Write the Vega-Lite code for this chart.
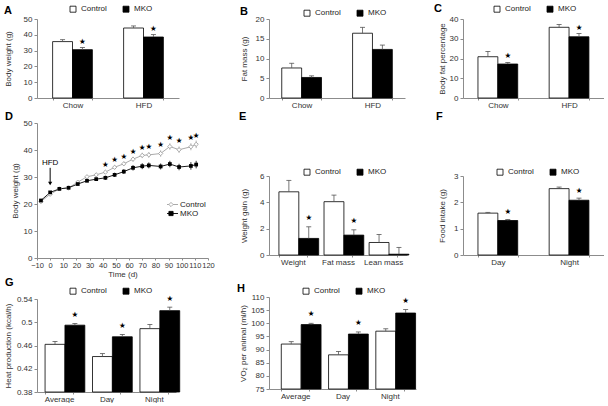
{
  "$schema": "https://vega.github.io/schema/vega-lite/v6.json",
  "background": "white",
  "padding": {"left": 3, "top": 3, "right": 0, "bottom": 0},
  "autosize": {"type": "pad"},
  "datasets": {
    "bars": [
      {"p":"A","cat":"Chow","g":"Control","m":35.7,"h":36.9,"s":false},
      {"p":"A","cat":"Chow","g":"MKO","m":30.6,"h":31.9,"s":true},
      {"p":"A","cat":"HFD","g":"Control","m":44.3,"h":45.6,"s":false},
      {"p":"A","cat":"HFD","g":"MKO","m":38.6,"h":40.1,"s":true},
      {"p":"B","cat":"Chow","g":"Control","m":7.6,"h":8.8,"s":false},
      {"p":"B","cat":"Chow","g":"MKO","m":5.2,"h":5.6,"s":false},
      {"p":"B","cat":"HFD","g":"Control","m":16.4,"h":17.9,"s":false},
      {"p":"B","cat":"HFD","g":"MKO","m":12.3,"h":13.4,"s":false},
      {"p":"C","cat":"Chow","g":"Control","m":20.9,"h":23.6,"s":false},
      {"p":"C","cat":"Chow","g":"MKO","m":17.2,"h":18.0,"s":true},
      {"p":"C","cat":"HFD","g":"Control","m":35.8,"h":37.2,"s":false},
      {"p":"C","cat":"HFD","g":"MKO","m":31.0,"h":32.6,"s":true},
      {"p":"E","cat":"Weight","g":"Control","m":4.8,"h":5.67,"s":false},
      {"p":"E","cat":"Weight","g":"MKO","m":1.26,"h":2.14,"s":true},
      {"p":"E","cat":"Fat mass","g":"Control","m":4.05,"h":4.55,"s":false},
      {"p":"E","cat":"Fat mass","g":"MKO","m":1.51,"h":1.91,"s":true},
      {"p":"E","cat":"Lean mass","g":"Control","m":0.95,"h":1.55,"s":false},
      {"p":"E","cat":"Lean mass","g":"MKO","m":0.06,"h":0.58,"s":false},
      {"p":"F","cat":"Day","g":"Control","m":1.59,"h":1.62,"s":false},
      {"p":"F","cat":"Day","g":"MKO","m":1.31,"h":1.35,"s":true},
      {"p":"F","cat":"Night","g":"Control","m":2.52,"h":2.58,"s":false},
      {"p":"F","cat":"Night","g":"MKO","m":2.08,"h":2.16,"s":true},
      {"p":"G","cat":"Average","g":"Control","m":0.462,"h":0.467,"s":false},
      {"p":"G","cat":"Average","g":"MKO","m":0.495,"h":0.498,"s":true},
      {"p":"G","cat":"Day","g":"Control","m":0.441,"h":0.446,"s":false},
      {"p":"G","cat":"Day","g":"MKO","m":0.475,"h":0.479,"s":true},
      {"p":"G","cat":"Night","g":"Control","m":0.489,"h":0.496,"s":false},
      {"p":"G","cat":"Night","g":"MKO","m":0.520,"h":0.526,"s":true},
      {"p":"H","cat":"Average","g":"Control","m":92.1,"h":93.0,"s":false},
      {"p":"H","cat":"Average","g":"MKO","m":99.5,"h":100.0,"s":true},
      {"p":"H","cat":"Day","g":"Control","m":88.0,"h":89.3,"s":false},
      {"p":"H","cat":"Day","g":"MKO","m":95.9,"h":96.7,"s":true},
      {"p":"H","cat":"Night","g":"Control","m":97.0,"h":97.9,"s":false},
      {"p":"H","cat":"Night","g":"MKO","m":103.9,"h":105.2,"s":true}
    ],
    "ts": [
      {"d":-7,"g":"Control","m":20.9,"lo":20.5,"hi":21.3,"s":false},
      {"d":0,"g":"Control","m":23.6,"lo":23.2,"hi":24.0,"s":false},
      {"d":7,"g":"Control","m":25.6,"lo":25.3,"hi":25.9,"s":false},
      {"d":14,"g":"Control","m":26.0,"lo":25.7,"hi":26.3,"s":false},
      {"d":21,"g":"Control","m":28.1,"lo":27.7,"hi":28.5,"s":false},
      {"d":28,"g":"Control","m":30.1,"lo":29.6,"hi":30.6,"s":false},
      {"d":35,"g":"Control","m":30.8,"lo":30.2,"hi":31.4,"s":false},
      {"d":42,"g":"Control","m":31.8,"lo":31.1,"hi":32.5,"s":true},
      {"d":49,"g":"Control","m":33.6,"lo":32.8,"hi":34.4,"s":true},
      {"d":56,"g":"Control","m":34.9,"lo":34.1,"hi":35.7,"s":true},
      {"d":63,"g":"Control","m":36.6,"lo":35.7,"hi":37.5,"s":true},
      {"d":70,"g":"Control","m":38.0,"lo":37.0,"hi":39.0,"s":true},
      {"d":75,"g":"Control","m":38.2,"lo":37.2,"hi":39.2,"s":true},
      {"d":84,"g":"Control","m":38.7,"lo":37.5,"hi":39.9,"s":true},
      {"d":91,"g":"Control","m":41.3,"lo":40.1,"hi":42.5,"s":true},
      {"d":98,"g":"Control","m":40.1,"lo":38.9,"hi":41.3,"s":true},
      {"d":107,"g":"Control","m":41.2,"lo":39.9,"hi":42.5,"s":true},
      {"d":111,"g":"Control","m":42.1,"lo":40.7,"hi":43.5,"s":true},
      {"d":-7,"g":"MKO","m":21.3,"lo":20.9,"hi":21.7,"s":false},
      {"d":0,"g":"MKO","m":24.3,"lo":23.9,"hi":24.7,"s":false},
      {"d":7,"g":"MKO","m":25.6,"lo":25.3,"hi":25.9,"s":false},
      {"d":14,"g":"MKO","m":26.0,"lo":25.7,"hi":26.3,"s":false},
      {"d":21,"g":"MKO","m":27.4,"lo":26.9,"hi":27.9,"s":false},
      {"d":28,"g":"MKO","m":28.6,"lo":28.1,"hi":29.1,"s":false},
      {"d":35,"g":"MKO","m":29.2,"lo":28.6,"hi":29.8,"s":false},
      {"d":42,"g":"MKO","m":29.7,"lo":28.9,"hi":30.5,"s":false},
      {"d":49,"g":"MKO","m":30.8,"lo":30.0,"hi":31.6,"s":false},
      {"d":56,"g":"MKO","m":32.0,"lo":31.1,"hi":32.9,"s":false},
      {"d":63,"g":"MKO","m":33.4,"lo":32.4,"hi":34.4,"s":false},
      {"d":70,"g":"MKO","m":34.0,"lo":32.9,"hi":35.1,"s":false},
      {"d":75,"g":"MKO","m":34.3,"lo":33.2,"hi":35.4,"s":false},
      {"d":84,"g":"MKO","m":33.9,"lo":32.8,"hi":35.0,"s":false},
      {"d":91,"g":"MKO","m":34.8,"lo":33.6,"hi":36.0,"s":false},
      {"d":98,"g":"MKO","m":33.7,"lo":32.5,"hi":34.9,"s":false},
      {"d":107,"g":"MKO","m":34.1,"lo":32.7,"hi":35.5,"s":false},
      {"d":111,"g":"MKO","m":34.6,"lo":33.2,"hi":36.0,"s":false}
    ],
    "ann": [{"d":0,"y1":33.4,"y2":27.6,"ty":34.3,"label":"HFD"}]
  },
  "spacing": 18,
  "resolve": {"scale": {"fill":"independent","color":"independent","shape":"independent"}, "legend": {"fill":"independent","color":"independent","shape":"independent"}},
  "hconcat": [
    {
      "spacing": 22,
      "resolve": {"scale": {"fill":"independent","color":"independent","shape":"independent"}, "legend": {"fill":"independent","color":"independent","shape":"independent"}},
      "hconcat": [
        {
          "spacing": -2,
          "resolve": {"scale": {"fill":"independent","color":"independent","shape":"independent"}, "legend": {"fill":"independent","color":"independent","shape":"independent"}},
          "vconcat": [
            {
              "spacing": 2,
              "resolve": {"scale": {"fill":"independent","color":"independent","shape":"independent"}, "legend": {"fill":"independent","color":"independent","shape":"independent"}},
              "vconcat": [
                {
                  "width": 142, "height": 79,
                  "title": {"text": "A", "dx": -33, "dy": 15},
                  "data": {"name": "bars"},
                  "transform": [{"filter": "datum.p === 'A'"}],
                  "encoding": {
                    "x": {"field": "cat", "type": "nominal", "sort": null, "title": null, "scale": {"paddingInner": 0.44, "paddingOuter": 0.22}, "axis": {"labelAngle": 0, "tickBand": "extent", "tickSize": 2, "labelPadding": 1}},
                    "xOffset": {"field": "g", "type": "nominal", "sort": ["Control","MKO"]},
                    "y": {"field": "m", "type": "quantitative", "title": "Body weight (g)", "scale": {"domain": [0,50], "nice": false}, "axis": {"values": [0,10,20,30,40,50], "titleX": -25}}
                  },
                  "layer": [
                    {"mark": {"type": "bar", "stroke": "black", "strokeWidth": 0.8}, "encoding": {"fill": {"field": "g", "type": "nominal", "scale": {"domain": ["Control","MKO"], "range": ["white","black"]}, "legend": {"orient": "none", "legendX": 32, "legendY": -14, "direction": "horizontal", "title": null, "symbolType": "square", "symbolSize": 36, "symbolStrokeColor": "black", "symbolStrokeWidth": 0.8, "columnPadding": 14, "labelOffset": 4}}}},
                    {"mark": {"type": "rule", "color": "#555", "strokeWidth": 0.8}, "encoding": {"y2": {"field": "h"}}},
                    {"mark": {"type": "tick", "color": "#555", "thickness": 0.8, "size": 5, "opacity": 1}, "encoding": {"y": {"field": "h", "type": "quantitative", "title": "Body weight (g)"}}},
                    {"transform": [{"filter": "datum.s"}], "mark": {"type": "text", "text": "★", "font": "DejaVu Sans", "fontSize": 7.5, "dy": -6, "baseline": "middle", "color": "black"}, "encoding": {"y": {"field": "h", "type": "quantitative", "title": "Body weight (g)"}}}
                  ]
                },
                {
                  "width": 171, "height": 135,
                  "title": {"text": "D", "dx": -32, "dy": 7},
                  "encoding": {
                    "x": {"field": "d", "type": "quantitative", "title": "Time (d)", "scale": {"domain": [-10,120], "nice": false}, "axis": {"values": [-10,0,10,20,30,40,50,60,70,80,90,100,110,120], "tickSize": 2, "labelPadding": 1, "titlePadding": 2, "labelOverlap": false, "labelFlush": false, "labelFontSize": 7.5}},
                    "y": {"field": "m", "type": "quantitative", "title": "Body weight (g)", "scale": {"domain": [0,50], "nice": false}, "axis": {"values": [0,10,20,30,40,50], "titleX": -18}}
                  },
                  "layer": [
                    {"data": {"name": "ts"}, "transform": [{"filter": "datum.g === 'Control'"}], "mark": {"type": "rule", "strokeWidth": 0.8, "color": "#a0a0a0"},
                     "encoding": {"y": {"field": "lo", "type": "quantitative", "title": "Body weight (g)"}, "y2": {"field": "hi"}}},
                    {"data": {"name": "ts"}, "transform": [{"filter": "datum.g === 'MKO'"}], "mark": {"type": "rule", "strokeWidth": 0.8, "color": "black"},
                     "encoding": {"y": {"field": "lo", "type": "quantitative", "title": "Body weight (g)"}, "y2": {"field": "hi"}}},
                    {"data": {"name": "ts"}, "mark": {"type": "line", "strokeWidth": 0.9},
                     "encoding": {
                       "color": {"field": "g", "type": "nominal", "scale": {"domain": ["Control","MKO"], "range": ["#a0a0a0","black"]},
                         "legend": {"orient": "none", "legendX": 130, "legendY": 78, "direction": "vertical", "title": null, "symbolSize": 49, "rowPadding": 0, "clipHeight": 7, "labelOffset": 5,
                           "encode": {"symbols": {"update": {
                             "shape": {"signal": "datum.value === 'Control' ? 'M-2,0L-0.6,0M0.6,0L2,0M0,-0.6L0.6,0L0,0.6L-0.6,0Z' : 'M-2,0L2,0M-0.6,-0.6L0.6,-0.6L0.6,0.6L-0.6,0.6Z'"},
                             "fill": {"signal": "datum.value === 'Control' ? 'white' : 'black'"},
                             "stroke": {"signal": "datum.value === 'Control' ? '#a0a0a0' : 'black'"},
                             "strokeWidth": {"value": 0.9},
                             "opacity": {"value": 1}
                           }}}}}
                     }},
                    {"data": {"name": "ts"}, "transform": [{"filter": "datum.g === 'Control'"}], "mark": {"type": "point", "shape": "diamond", "size": 18, "strokeWidth": 0.9, "opacity": 1, "stroke": "#a0a0a0", "fill": "white", "filled": true}},
                    {"data": {"name": "ts"}, "transform": [{"filter": "datum.g === 'MKO'"}], "mark": {"type": "square", "size": 14, "opacity": 1, "color": "black", "filled": true}},
                    {"data": {"name": "ts"}, "transform": [{"filter": "datum.s && datum.g === 'Control'"}], "mark": {"type": "text", "text": "★", "font": "DejaVu Sans", "fontSize": 7.5, "dy": -5, "baseline": "middle", "color": "black"},
                     "encoding": {"y": {"field": "hi", "type": "quantitative", "title": "Body weight (g)"}}},
                    {"data": {"name": "ann"}, "mark": {"type": "rule", "color": "black", "strokeWidth": 1},
                     "encoding": {"y": {"field": "y1", "type": "quantitative", "title": "Body weight (g)"}, "y2": {"field": "y2"}}},
                    {"data": {"name": "ann"}, "mark": {"type": "point", "shape": "triangle-down", "filled": true, "color": "black", "size": 18, "opacity": 1},
                     "encoding": {"y": {"field": "y2", "type": "quantitative", "title": "Body weight (g)"}}},
                    {"data": {"name": "ann"}, "mark": {"type": "text", "fontSize": 8, "baseline": "alphabetic", "color": "black"},
                     "encoding": {"y": {"field": "ty", "type": "quantitative", "title": "Body weight (g)"}, "text": {"field": "label"}}}
                  ]
                }
              ]
            },
            {
              "width": 139, "height": 93,
              "title": {"text": "G", "dx": -32, "dy": 5},
              "data": {"name": "bars"},
              "transform": [{"filter": "datum.p === 'G'"}],
              "encoding": {
                "x": {"field": "cat", "type": "nominal", "sort": null, "title": null, "scale": {"paddingInner": 0.41, "paddingOuter": 0.17}, "axis": {"labelAngle": 0, "tickBand": "extent", "tickSize": 2, "labelPadding": 1}},
                "xOffset": {"field": "g", "type": "nominal", "sort": ["Control","MKO"]},
                "y": {"field": "m", "type": "quantitative", "title": "Heat production (kcal/h)", "scale": {"domain": [0.38,0.54], "nice": false, "zero": false}, "axis": {"values": [0.38,0.42,0.46,0.5,0.54], "format": ".2~f", "titleX": -25}}
              },
              "layer": [
                {"mark": {"type": "bar", "stroke": "black", "strokeWidth": 0.8}, "encoding": {"y2": {"datum": 0.38}, "fill": {"field": "g", "type": "nominal", "scale": {"domain": ["Control","MKO"], "range": ["white","black"]}, "legend": {"orient": "none", "legendX": 32, "legendY": -12, "direction": "horizontal", "title": null, "symbolType": "square", "symbolSize": 36, "symbolStrokeColor": "black", "symbolStrokeWidth": 0.8, "columnPadding": 14, "labelOffset": 4}}}},
                {"mark": {"type": "rule", "color": "#555", "strokeWidth": 0.8}, "encoding": {"y2": {"field": "h"}}},
                {"mark": {"type": "tick", "color": "#555", "thickness": 0.8, "size": 5, "opacity": 1}, "encoding": {"y": {"field": "h", "type": "quantitative", "title": "Heat production (kcal/h)"}}},
                {"transform": [{"filter": "datum.s"}], "mark": {"type": "text", "text": "★", "font": "DejaVu Sans", "fontSize": 7.5, "dy": -8, "baseline": "middle", "color": "black"}, "encoding": {"y": {"field": "h", "type": "quantitative", "title": "Heat production (kcal/h)"}}}
              ]
            }
          ]
        },
        {
          "spacing": 17,
          "resolve": {"scale": {"fill":"independent","color":"independent","shape":"independent"}, "legend": {"fill":"independent","color":"independent","shape":"independent"}},
          "vconcat": [
            {
              "spacing": 2,
              "resolve": {"scale": {"fill":"independent","color":"independent","shape":"independent"}, "legend": {"fill":"independent","color":"independent","shape":"independent"}},
              "vconcat": [
                {
                  "width": 136, "height": 79,
                  "title": {"text": "B", "dx": -29, "dy": 12},
                  "data": {"name": "bars"},
                  "transform": [{"filter": "datum.p === 'B'"}],
                  "encoding": {
                    "x": {"field": "cat", "type": "nominal", "sort": null, "title": null, "scale": {"paddingInner": 0.44, "paddingOuter": 0.18}, "axis": {"labelAngle": 0, "tickBand": "extent", "tickSize": 2, "labelPadding": 1}},
                    "xOffset": {"field": "g", "type": "nominal", "sort": ["Control","MKO"]},
                    "y": {"field": "m", "type": "quantitative", "title": "Fat mass (g)", "scale": {"domain": [0,20], "nice": false}, "axis": {"values": [0,5,10,15,20], "titleX": -21}}
                  },
                  "layer": [
                    {"mark": {"type": "bar", "stroke": "black", "strokeWidth": 0.8}, "encoding": {"fill": {"field": "g", "type": "nominal", "scale": {"domain": ["Control","MKO"], "range": ["white","black"]}, "legend": {"orient": "none", "legendX": 34, "legendY": -10, "direction": "horizontal", "title": null, "symbolType": "square", "symbolSize": 36, "symbolStrokeColor": "black", "symbolStrokeWidth": 0.8, "columnPadding": 14, "labelOffset": 4}}}},
                    {"mark": {"type": "rule", "color": "#555", "strokeWidth": 0.8}, "encoding": {"y2": {"field": "h"}}},
                    {"mark": {"type": "tick", "color": "#555", "thickness": 0.8, "size": 5, "opacity": 1}, "encoding": {"y": {"field": "h", "type": "quantitative", "title": "Fat mass (g)"}}}
                  ]
                },
                {
                  "width": 138, "height": 79,
                  "title": {"text": "E", "dx": -30, "dy": -42},
                  "data": {"name": "bars"},
                  "transform": [{"filter": "datum.p === 'E'"}],
                  "encoding": {
                    "x": {"field": "cat", "type": "nominal", "sort": null, "title": null, "scale": {"paddingInner": 0.38, "paddingOuter": 0.22}, "axis": {"labelAngle": 0, "tickBand": "extent", "tickSize": 2, "labelPadding": 1}},
                    "xOffset": {"field": "g", "type": "nominal", "sort": ["Control","MKO"]},
                    "y": {"field": "m", "type": "quantitative", "title": "Weight gain (g)", "scale": {"domain": [0,6], "nice": false}, "axis": {"values": [0,2,4,6], "titleX": -21}}
                  },
                  "layer": [
                    {"mark": {"type": "bar", "stroke": "black", "strokeWidth": 0.8}, "encoding": {"fill": {"field": "g", "type": "nominal", "scale": {"domain": ["Control","MKO"], "range": ["white","black"]}, "legend": {"orient": "none", "legendX": 34, "legendY": -8, "direction": "horizontal", "title": null, "symbolType": "square", "symbolSize": 36, "symbolStrokeColor": "black", "symbolStrokeWidth": 0.8, "columnPadding": 14, "labelOffset": 4}}}},
                    {"mark": {"type": "rule", "color": "#555", "strokeWidth": 0.8}, "encoding": {"y2": {"field": "h"}}},
                    {"mark": {"type": "tick", "color": "#555", "thickness": 0.8, "size": 5, "opacity": 1}, "encoding": {"y": {"field": "h", "type": "quantitative", "title": "Weight gain (g)"}}},
                    {"transform": [{"filter": "datum.s"}], "mark": {"type": "text", "text": "★", "font": "DejaVu Sans", "fontSize": 7.5, "dy": -9, "baseline": "middle", "color": "black"}, "encoding": {"y": {"field": "h", "type": "quantitative", "title": "Weight gain (g)"}}}
                  ]
                }
              ]
            },
            {
              "width": 147, "height": 92,
              "title": {"text": "H", "dx": -32, "dy": 11},
              "data": {"name": "bars"},
              "transform": [{"filter": "datum.p === 'H'"}],
              "encoding": {
                "x": {"field": "cat", "type": "nominal", "sort": null, "title": null, "scale": {"paddingInner": 0.41, "paddingOuter": 0.26}, "axis": {"labelAngle": 0, "tickBand": "extent", "tickSize": 2, "labelPadding": 1}},
                "xOffset": {"field": "g", "type": "nominal", "sort": ["Control","MKO"]},
                "y": {"field": "m", "type": "quantitative", "title": "VO₂ per animal (ml/h)", "scale": {"domain": [75,110], "nice": false, "zero": false}, "axis": {"values": [75,80,85,90,95,100,105,110], "titleX": -22}}
              },
              "layer": [
                {"mark": {"type": "bar", "stroke": "black", "strokeWidth": 0.8}, "encoding": {"y2": {"datum": 75}, "fill": {"field": "g", "type": "nominal", "scale": {"domain": ["Control","MKO"], "range": ["white","black"]}, "legend": {"orient": "none", "legendX": 33, "legendY": -10, "direction": "horizontal", "title": null, "symbolType": "square", "symbolSize": 36, "symbolStrokeColor": "black", "symbolStrokeWidth": 0.8, "columnPadding": 14, "labelOffset": 4}}}},
                {"mark": {"type": "rule", "color": "#555", "strokeWidth": 0.8}, "encoding": {"y2": {"field": "h"}}},
                {"mark": {"type": "tick", "color": "#555", "thickness": 0.8, "size": 5, "opacity": 1}, "encoding": {"y": {"field": "h", "type": "quantitative", "title": "VO₂ per animal (ml/h)"}}},
                {"transform": [{"filter": "datum.s"}], "mark": {"type": "text", "text": "★", "font": "DejaVu Sans", "fontSize": 7.5, "dy": -9, "baseline": "middle", "color": "black"}, "encoding": {"y": {"field": "h", "type": "quantitative", "title": "VO₂ per animal (ml/h)"}}}
              ]
            }
          ]
        }
      ]
    },
    {
      "spacing": 2,
      "resolve": {"scale": {"fill":"independent","color":"independent","shape":"independent"}, "legend": {"fill":"independent","color":"independent","shape":"independent"}},
      "vconcat": [
        {
          "width": 141, "height": 79,
          "title": {"text": "C", "dx": -29, "dy": 13},
          "data": {"name": "bars"},
          "transform": [{"filter": "datum.p === 'C'"}],
          "encoding": {
            "x": {"field": "cat", "type": "nominal", "sort": null, "title": null, "scale": {"paddingInner": 0.44, "paddingOuter": 0.21}, "axis": {"labelAngle": 0, "tickBand": "extent", "tickSize": 2, "labelPadding": 1}},
            "xOffset": {"field": "g", "type": "nominal", "sort": ["Control","MKO"]},
            "y": {"field": "m", "type": "quantitative", "title": "Body fat percentage", "scale": {"domain": [0,40], "nice": false}, "axis": {"values": [0,10,20,30,40], "titleX": -17}}
          },
          "layer": [
            {"mark": {"type": "bar", "stroke": "black", "strokeWidth": 0.8}, "encoding": {"fill": {"field": "g", "type": "nominal", "scale": {"domain": ["Control","MKO"], "range": ["white","black"]}, "legend": {"orient": "none", "legendX": 30, "legendY": -14, "direction": "horizontal", "title": null, "symbolType": "square", "symbolSize": 36, "symbolStrokeColor": "black", "symbolStrokeWidth": 0.8, "columnPadding": 14, "labelOffset": 4}}}},
            {"mark": {"type": "rule", "color": "#555", "strokeWidth": 0.8}, "encoding": {"y2": {"field": "h"}}},
            {"mark": {"type": "tick", "color": "#555", "thickness": 0.8, "size": 5, "opacity": 1}, "encoding": {"y": {"field": "h", "type": "quantitative", "title": "Body fat percentage"}}},
            {"transform": [{"filter": "datum.s"}], "mark": {"type": "text", "text": "★", "font": "DejaVu Sans", "fontSize": 7.5, "dy": -6, "baseline": "middle", "color": "black"}, "encoding": {"y": {"field": "h", "type": "quantitative", "title": "Body fat percentage"}}}
          ]
        },
        {
          "width": 141, "height": 79,
          "title": {"text": "F", "dx": -27, "dy": -42},
          "data": {"name": "bars"},
          "transform": [{"filter": "datum.p === 'F'"}],
          "encoding": {
            "x": {"field": "cat", "type": "nominal", "sort": null, "title": null, "scale": {"paddingInner": 0.44, "paddingOuter": 0.21}, "axis": {"labelAngle": 0, "tickBand": "extent", "tickSize": 2, "labelPadding": 1}},
            "xOffset": {"field": "g", "type": "nominal", "sort": ["Control","MKO"]},
            "y": {"field": "m", "type": "quantitative", "title": "Food intake (g)", "scale": {"domain": [0,3], "nice": false}, "axis": {"values": [0,1,2,3], "titleX": -17}}
          },
          "layer": [
            {"mark": {"type": "bar", "stroke": "black", "strokeWidth": 0.8}, "encoding": {"fill": {"field": "g", "type": "nominal", "scale": {"domain": ["Control","MKO"], "range": ["white","black"]}, "legend": {"orient": "none", "legendX": 33, "legendY": -8, "direction": "horizontal", "title": null, "symbolType": "square", "symbolSize": 36, "symbolStrokeColor": "black", "symbolStrokeWidth": 0.8, "columnPadding": 14, "labelOffset": 4}}}},
            {"mark": {"type": "rule", "color": "#555", "strokeWidth": 0.8}, "encoding": {"y2": {"field": "h"}}},
            {"mark": {"type": "tick", "color": "#555", "thickness": 0.8, "size": 5, "opacity": 1}, "encoding": {"y": {"field": "h", "type": "quantitative", "title": "Food intake (g)"}}},
            {"transform": [{"filter": "datum.s"}], "mark": {"type": "text", "text": "★", "font": "DejaVu Sans", "fontSize": 7.5, "dy": -7, "baseline": "middle", "color": "black"}, "encoding": {"y": {"field": "h", "type": "quantitative", "title": "Food intake (g)"}}}
          ]
        }
      ]
    }
  ],
  "config": {
    "view": {"stroke": null},
    "font": "Liberation Sans",
    "axis": {"labelFont": "Liberation Sans", "labelFontSize": 8, "labelColor": "#333", "titleFont": "Liberation Sans", "titleFontSize": 8, "titleFontWeight": "normal", "titleColor": "#333", "domainColor": "#8c8c8c", "tickColor": "#8c8c8c", "grid": false, "tickSize": 3, "labelPadding": 2},
    "legend": {"labelFont": "Liberation Sans", "labelFontSize": 8, "labelColor": "#222", "padding": 0},
    "title": {"font": "Liberation Sans", "fontSize": 11, "fontWeight": "bold", "anchor": "start", "frame": "group", "baseline": "alphabetic", "offset": 0, "color": "black"}
  }
}
